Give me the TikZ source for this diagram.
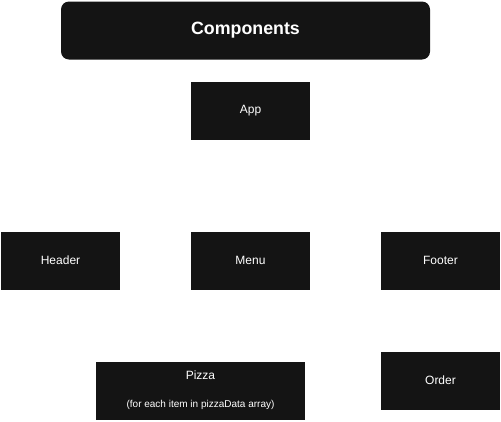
\documentclass[tikz,border=0pt]{standalone}
\usepackage{fontspec}
\setmainfont{Liberation Sans}
\definecolor{boxblack}{RGB}{20,20,20}
\tikzset{comp/.style={fill=boxblack,text=white,minimum width=119pt,minimum height=58pt,inner sep=0pt,align=center,font=\fontsize{12}{14}\selectfont}}
\begin{document}
\begin{tikzpicture}[x=1pt,y=-1pt]
\useasboundingbox (0,0) rectangle (501,421);
\node [comp,rounded corners=8pt,minimum width=369pt,font=\fontsize{17.8}{20}\selectfont\bfseries] (title) at (245.5,30.5) {Components};
\node [comp] (app) at (250.5,110.5) {App};
\node [comp] (header) at (60.5,260.5) {Header};
\node [comp] (menu) at (250.5,260.5) {Menu};
\node [comp] (footer) at (440.5,260.5) {Footer};
\node [comp,minimum width=209pt] (pizza) at (200.5,390.5) {Pizza\\[14pt]{\fontsize{10}{12}\selectfont (for each item in pizzaData array)}};
\node [comp] (order) at (440.5,380.5) {Order};
\end{tikzpicture}
\end{document}
